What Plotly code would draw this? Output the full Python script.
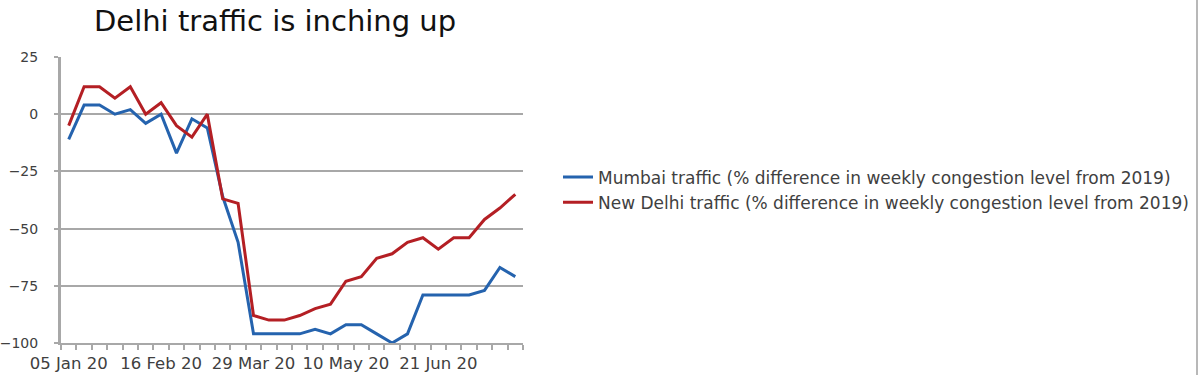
import plotly.graph_objects as go

weeks = [
    "2020-01-05", "2020-01-12", "2020-01-19", "2020-01-26", "2020-02-02", "2020-02-09",
    "2020-02-16", "2020-02-23", "2020-03-01", "2020-03-08", "2020-03-15", "2020-03-22",
    "2020-03-29", "2020-04-05", "2020-04-12", "2020-04-19", "2020-04-26", "2020-05-03",
    "2020-05-10", "2020-05-17", "2020-05-24", "2020-05-31", "2020-06-07", "2020-06-14",
    "2020-06-21", "2020-06-28", "2020-07-05", "2020-07-12", "2020-07-19", "2020-07-26",
]
mumbai = [-11, 4, 4, 0, 2, -4, 0, -17, -2, -6, -36, -56,
          -96, -96, -96, -96, -94, -96, -92, -92, -96, -100, -96, -79,
          -79, -79, -79, -77, -67, -71]
delhi = [-5, 12, 12, 7, 12, 0, 5, -5, -10, 0, -37, -39,
         -88, -90, -90, -88, -85, -83, -73, -71, -63, -61, -56, -54,
         -59, -54, -54, -46, -41, -35]
tick_dates = ["2020-01-05", "2020-02-16", "2020-03-29", "2020-05-10", "2020-06-21"]
tick_labels = ["05 Jan 20", "16 Feb 20", "29 Mar 20", "10 May 20", "21 Jun 20"]
y_ticks = [25, 0, -25, -50, -75, -100]

name_mumbai = "Mumbai traffic (% difference in weekly congestion level from 2019)"
name_delhi = "New Delhi traffic (% difference in weekly congestion level from 2019)"

FONT = "DejaVu Sans"
GRID = "#A8A8A8"

fig = go.Figure()
fig.add_trace(go.Scatter(x=weeks, y=mumbai, mode="lines", name=name_mumbai,
                         line=dict(color="#2563AE", width=3)))
fig.add_trace(go.Scatter(x=weeks, y=delhi, mode="lines", name=name_delhi,
                         line=dict(color="#B41F24", width=3)))

L, R, T, B = 61, 677, 57, 32
W, H = 1200, 375
pw, ph = W - L - R, H - T - B

fig.update_layout(
    width=W, height=H,
    margin=dict(l=L, r=R, t=T, b=B, pad=0, autoexpand=False),
    paper_bgcolor="white", plot_bgcolor="white",
    font=dict(family=FONT, color="#404040", size=14),
    showlegend=True,
    legend=dict(x=(558 - L) / pw, y=(H - B - 190) / ph, xanchor="left", yanchor="middle",
                font=dict(family=FONT, size=17, color="#404040"),
                itemwidth=30, tracegroupgap=0, bgcolor="rgba(0,0,0,0)"),
    xaxis=dict(
        type="date", automargin=False,
        range=["2020-01-01 12:00", "2020-07-29 12:00"],
        tickmode="array", tickvals=tick_dates, ticktext=tick_labels,
        ticks="", showgrid=False, zeroline=False,
        showline=True, linecolor=GRID, linewidth=2,
        ticklabelstandoff=4,
        tickfont=dict(family=FONT, size=16.5, color="#404040"),
        minor=dict(ticks="outside", ticklen=5, tickwidth=2, tickcolor=GRID,
                   tick0="2020-01-01 12:00", dtick=7 * 24 * 3600 * 1000, showgrid=False),
    ),
    yaxis=dict(
        range=[-100, 25], tickvals=y_ticks, automargin=False,
        showgrid=True, gridcolor=GRID, gridwidth=2, zeroline=False,
        showline=True, linecolor=GRID, linewidth=3,
        ticks="outside", ticklen=4, tickcolor=GRID, tickwidth=2,
        ticklabelstandoff=13,
        tickfont=dict(family=FONT, size=14, color="#404040"),
    ),
    annotations=[dict(
        text="Delhi traffic is inching up", xref="paper", yref="paper",
        x=(275 - L) / pw, y=1 + (T - 21) / ph, xanchor="center", yanchor="middle",
        showarrow=False, font=dict(family=FONT, size=29, color="#111111"),
    )],
    shapes=[dict(type="line", xref="paper", yref="paper",
                 x0=(1197 - L) / pw, x1=(1197 - L) / pw,
                 y0=-B / ph, y1=1 + T / ph,
                 line=dict(color="#B8B8B8", width=2))],
)

fig.write_html("out.html", config={"displayModeBar": False},
               post_script="document.body.style.margin='0px';document.body.style.overflow='hidden';")
